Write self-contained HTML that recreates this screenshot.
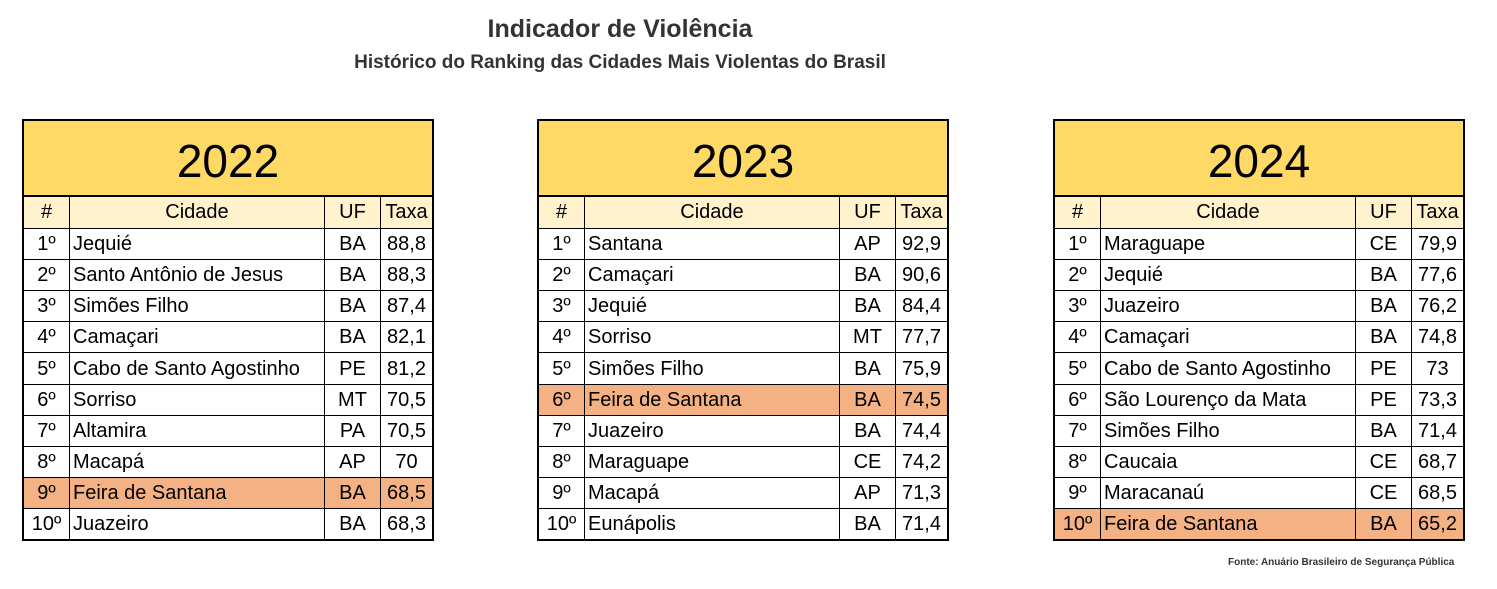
<!DOCTYPE html>
<html><head><meta charset="utf-8"><style>
body{margin:0;width:1497px;height:589px;background:#fff;position:relative;font-family:"Liberation Sans",sans-serif;overflow:hidden}
.t{position:absolute;text-align:center;font-weight:bold;color:#333;left:0;width:1240px}
.tbl{position:absolute;top:119px;width:408px;height:418px;border:2px solid #000;background:#fff}
.yr{position:absolute;left:0;top:0;width:408px;height:74px;background:#FFD966;border-bottom:2px solid #000;font-size:46px;text-align:center;line-height:80px}
.c{position:absolute;font-size:20px;line-height:31px;height:31px;box-sizing:border-box;white-space:nowrap;overflow:hidden;color:#000}
.hl{background:#F4B183}
</style></head><body>
<div class="t" style="top:15px;font-size:25px;color:#333">Indicador de Violência</div>
<div class="t" style="top:52px;font-size:19px;color:#333">Histórico do Ranking das Cidades Mais Violentas do Brasil</div>
<div style="position:absolute;left:1228px;top:557px;font-size:10px;font-weight:bold;color:#333">Fonte: Anuário Brasileiro de Segurança Pública</div>
<script>
const years=["2022","2023","2024"];
const cities2022=["Jequié","Santo Antônio de Jesus","Simões Filho","Camaçari","Cabo de Santo Agostinho","Sorriso","Altamira","Macapá","Feira de Santana","Juazeiro"];
const uf2022=["BA","BA","BA","BA","PE","MT","PA","AP","BA","BA"];
const rate2022=["88,8","88,3","87,4","82,1","81,2","70,5","70,5","70","68,5","68,3"];
const cities2023=["Santana","Camaçari","Jequié","Sorriso","Simões Filho","Feira de Santana","Juazeiro","Maraguape","Macapá","Eunápolis"];
const uf2023=["AP","BA","BA","MT","BA","BA","BA","CE","AP","BA"];
const rate2023=["92,9","90,6","84,4","77,7","75,9","74,5","74,4","74,2","71,3","71,4"];
const cities2024=["Maraguape","Jequié","Juazeiro","Camaçari","Cabo de Santo Agostinho","São Lourenço da Mata","Simões Filho","Caucaia","Maracanaú","Feira de Santana"];
const uf2024=["CE","BA","BA","BA","PE","PE","BA","CE","CE","BA"];
const rate2024=["79,9","77,6","76,2","74,8","73","73,3","71,4","68,7","68,5","65,2"];
const cities=[cities2022,cities2023,cities2024],ufs=[uf2022,uf2023,uf2024],rates=[rate2022,rate2023,rate2024];
const lefts=[22,537,1053];
const colX=[0,45,300,356,408];
function cell(parent,x,y,w,h,txt,align,bg,bl,bt){
  const d=document.createElement('div');d.className='c';
  
  
  d.style.cssText=`left:${x}px;top:${y}px;width:${w}px;height:${h}px;text-align:${align};${bg?'background:'+bg+';':''}${bl?'border-left:1px solid #000;':''}${bt?'border-top:1px solid #000;':''}padding-left:${align=='left'?3:0}px;line-height:${h}px`;
  d.textContent=txt;parent.appendChild(d);
}
years.forEach((yr,t)=>{
  const tb=document.createElement('div');tb.className='tbl';tb.style.left=lefts[t]+'px';
  
  
  document.body.appendChild(tb);
  const y=document.createElement('div');y.className='yr';y.textContent=yr;
  
  
  tb.appendChild(y);
  const hdr=["#","Cidade","UF","Taxa"];
  hdr.forEach((h,i)=>cell(tb,colX[i],76,colX[i+1]-colX[i],31,h,'center','#FFF2CC',i>0,false));
  for(let r=0;r<10;r++){
    const top=107+Math.round(r*31.1), h=Math.round((r+1)*31.1)-Math.round(r*31.1);
    const hl=cities[t][r]=="Feira de Santana"?'#F4B183':null;
    const vals=[(r+1)+"º",cities[t][r],ufs[t][r],rates[t][r]];
    vals.forEach((v,i)=>cell(tb,colX[i],top,colX[i+1]-colX[i],h,v,i==1?'left':'center',hl,i>0,true));
  }
});
</script>
</body></html>
